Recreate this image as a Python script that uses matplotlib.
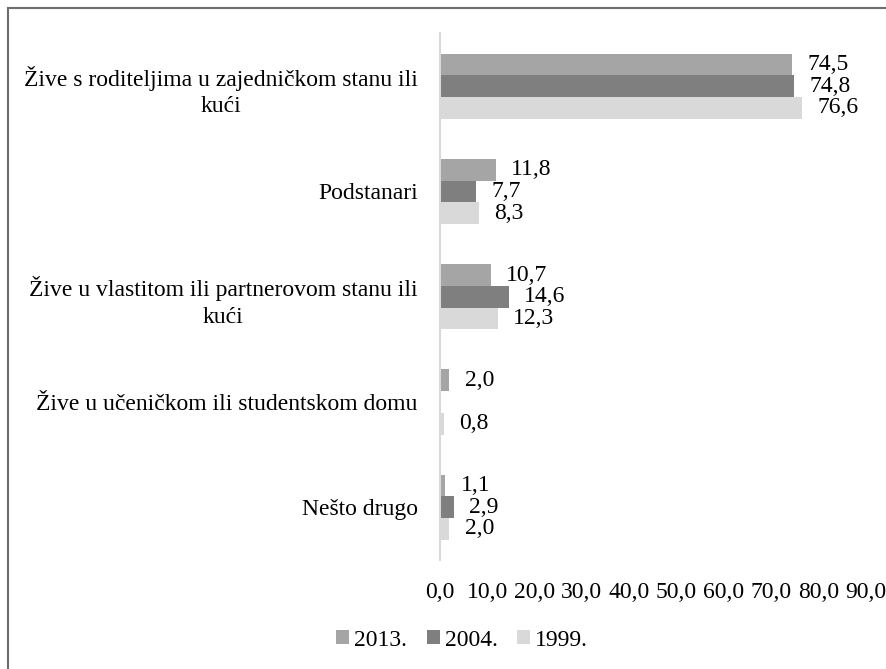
import numpy as np
import matplotlib.pyplot as plt
from matplotlib.patches import Rectangle

plt.rcParams['font.family'] = ['Liberation Serif', 'DejaVu Serif']

# Data
categories = [
    'Žive s roditeljima u zajedničkom stanu ili\nkući',
    'Podstanari',
    'Žive u vlastitom ili partnerovom stanu ili\nkući',
    'Žive u učeničkom ili studentskom domu',
    'Nešto drugo',
]
series_names = ['2013.', '2004.', '1999.']
values_2013 = [74.5, 11.8, 10.7, 2.0, 1.1]
values_2004 = [74.8, 7.7, 14.6, 0.0, 2.9]
values_1999 = [76.6, 8.3, 12.3, 0.8, 2.0]
colors = ['#A5A5A5', '#7F7F7F', '#D9D9D9']

fig = plt.figure(figsize=(8.87, 6.69), dpi=100)
# outer frame (offset on left/top, running off on right/bottom)
fig.add_artist(Rectangle((8 / 887, -0.01), 1.0, 1 - 8 / 669 + 0.01, transform=fig.transFigure,
                         fill=False, edgecolor='#6E6E6E', linewidth=1.5))

ax = fig.add_axes([0.496, 0.163, 0.48, 0.787])

y = np.arange(len(categories))
h = 0.206
all_vals = [values_2013, values_2004, values_1999]
for i, (vals, name, c) in enumerate(zip(all_vals, series_names, colors)):
    pos = y + (i - 1) * h
    bars = ax.barh(pos, vals, height=h, color=c, label=name)
    for b, v in zip(bars, vals):
        if v == 0:
            continue
        ax.annotate(f'{v:.1f}'.replace('.', ','), (v, b.get_y() + b.get_height() / 2),
                    xytext=(11, 0), textcoords='offset points',
                    va='center', ha='left', fontsize=17)

ax.set_ylim(len(categories) - 0.5, -0.5)
ax.set_xlim(0, 90)
ax.set_yticks(y)
ax.set_yticklabels(categories, fontsize=17, multialignment='center', linespacing=1.35)
ax.set_xticks(np.arange(0, 91, 10))
ax.set_xticklabels([f'{t:.1f}'.replace('.', ',') for t in np.arange(0, 91, 10)], fontsize=17)
ax.tick_params(axis='both', length=0)
ax.tick_params(axis='y', pad=16)
ax.tick_params(axis='x', pad=16)
for s in ['top', 'right', 'bottom']:
    ax.spines[s].set_visible(False)
ax.spines['left'].set_color('#D9D9D9')
ax.spines['left'].set_linewidth(1.5)

fig.legend(loc='center', bbox_to_anchor=(0.521, 0.043), ncol=3, frameon=False,
           fontsize=17, handlelength=0.55, handleheight=0.55, handletextpad=0.2,
           columnspacing=0.85, borderpad=0)

fig.savefig('out.png', dpi=100)
